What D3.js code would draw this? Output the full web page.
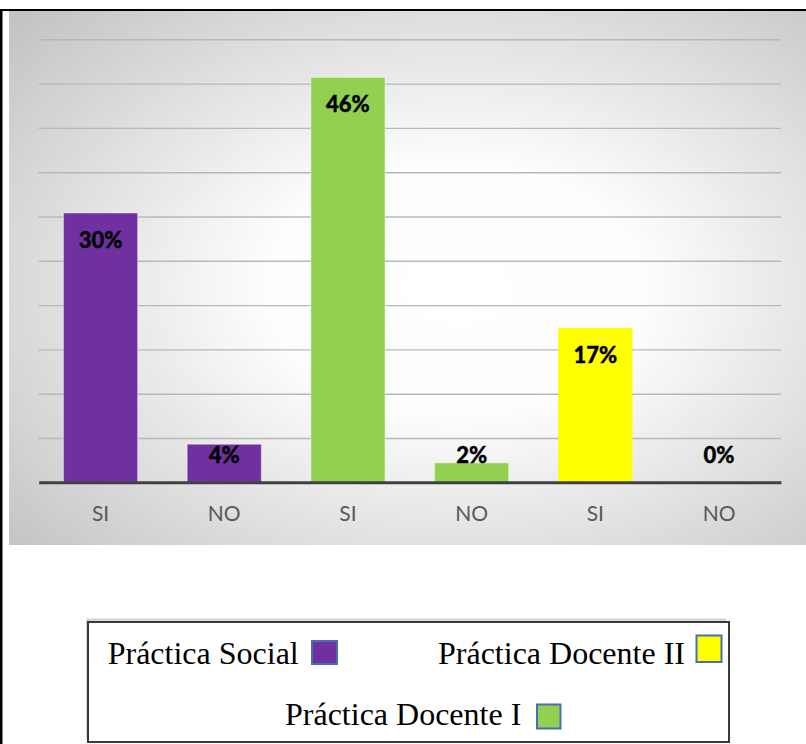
<!DOCTYPE html>
<html>
<head>
<meta charset="utf-8">
<script src="https://cdn.jsdelivr.net/npm/d3@7/dist/d3.min.js"></script>
<style>
  html, body { margin: 0; padding: 0; background: #ffffff; }
  svg { display: block; }
</style>
</head>
<body>
<svg id="chart" width="806" height="744"></svg>
<script>
// ---- data ----
const categories = ["SI", "NO", "SI", "NO", "SI", "NO"];
const barSeries = ["Práctica Social", "Práctica Social", "Práctica Docente I", "Práctica Docente I", "Práctica Docente II", "Práctica Docente II"];
const values = [0.304, 0.043, 0.457, 0.022, 0.174, 0.0];
const yTicks = [0, 0.05, 0.10, 0.15, 0.20, 0.25, 0.30, 0.35, 0.40, 0.45, 0.50];
const seriesNames = ["Práctica Social", "Práctica Docente I", "Práctica Docente II"];
const seriesColors = ["#7030A0", "#92D050", "#FFFF00"];

const svg = d3.select("#chart");
const W = 806, H = 744;

const color = d3.scaleOrdinal().domain(seriesNames).range(seriesColors);

// ---- frame ----
const defs = svg.append("defs");
const grad = defs.append("radialGradient")
  .attr("id", "bg").attr("cx", 0.56).attr("cy", 0.52).attr("r", 0.74)
  .attr("fx", 0.56).attr("fy", 0.52);
grad.append("stop").attr("offset", 0).attr("stop-color", "#ffffff");
grad.append("stop").attr("offset", 0.32).attr("stop-color", "#fdfdfd");
grad.append("stop").attr("offset", 1).attr("stop-color", "#c4c4c4");

svg.append("rect").attr("x", 9).attr("y", 11).attr("width", W - 9).attr("height", 534)
  .attr("fill", "url(#bg)");
// black page edges
svg.append("rect").attr("x", 0).attr("y", 9).attr("width", W).attr("height", 2).attr("fill", "#000");
svg.append("rect").attr("x", 0).attr("y", 9).attr("width", 2.5).attr("height", H - 9).attr("fill", "#000");

// ---- scales ----
const x = d3.scaleBand().domain(d3.range(values.length))
  .range([38.7, 780.9]).paddingInner(0.4).paddingOuter(0.2);
const y = d3.scaleLinear().domain([0, 0.5]).range([482.3, 39.3]);

// gridlines
const grid = svg.append("g").attr("transform", `translate(${38.7},0)`)
  .call(d3.axisLeft(y).tickValues(yTicks.slice(1)).tickSize(-(780.9 - 38.7)).tickFormat(""));
grid.select(".domain").remove();
grid.selectAll(".tick line").attr("stroke", "#b8b8b8").attr("stroke-width", 1.4);

// bars
svg.append("g").selectAll("rect").data(values).join("rect")
  .attr("x", (d, i) => x(i))
  .attr("y", d => y(d))
  .attr("width", x.bandwidth())
  .attr("height", d => y(0) - y(d))
  .attr("fill", (d, i) => color(barSeries[i]))
  .attr("stroke", "#ffffff").attr("stroke-opacity", (d, i) => barSeries[i] === "Práctica Docente II" ? 0 : 0.4)
  .attr("stroke-width", 1.2);

// baseline / x axis
const xAxis = svg.append("g").attr("transform", `translate(0,${y(0)})`)
  .call(d3.axisBottom(x).tickSize(0).tickPadding(24).tickFormat(i => categories[i]));
xAxis.select(".domain").attr("stroke", "#404040").attr("stroke-width", 3);
xAxis.selectAll(".tick text")
  .attr("font-family", "Lato, 'Open Sans', sans-serif").attr("font-size", 21)
  .attr("fill", "#595959").attr("dy", null).attr("y", 0)
  .attr("transform", "translate(0,38.4)");

// data labels (inside end)
const fmt = d3.format(".0%");
svg.append("g").selectAll("text").data(values).join("text")
  .attr("x", (d, i) => x(i) + x.bandwidth() / 2)
  .attr("y", d => Math.min(y(d) + 35, y(0) - 19))
  .attr("text-anchor", "middle")
  .attr("font-family", "Lato, 'Open Sans', sans-serif").attr("font-weight", 900)
  .attr("font-size", 22).attr("fill", "#000")
  .attr("stroke", "#000").attr("stroke-width", 0.35)
  .text(d => fmt(d));

// ---- legend ----
const lg = svg.append("g");
lg.append("rect").attr("x", 86).attr("y", 618.5).attr("width", 640).attr("height", 120).attr("fill", "#d6d6d6");
lg.append("rect").attr("x", 88).attr("y", 622).attr("width", 641).attr("height", 120)
  .attr("fill", "#ffffff").attr("stroke", "#3a3a3a").attr("stroke-width", 2);

const legendItems = [
  { name: seriesNames[0], tx: 107.7, ty: 664, sx: 312, sy: 641, sw: 25, sh: 23 },
  { name: seriesNames[2], tx: 438, ty: 664, sx: 696.5, sy: 635.5, sw: 25, sh: 26.5 },
  { name: seriesNames[1], tx: 285, ty: 725, sx: 537, sy: 704.5, sw: 23.5, sh: 24 }
];
legendItems.forEach(it => {
  lg.append("text").attr("x", it.tx).attr("y", it.ty)
    .attr("font-family", "'Liberation Serif', 'Times New Roman', serif")
    .attr("font-size", 32).attr("fill", "#000").text(it.name);
  lg.append("rect").attr("x", it.sx).attr("y", it.sy).attr("width", it.sw).attr("height", it.sh)
    .attr("fill", color(it.name)).attr("stroke", "#4a6fb0").attr("stroke-width", 2);
});
</script>
</body>
</html>
